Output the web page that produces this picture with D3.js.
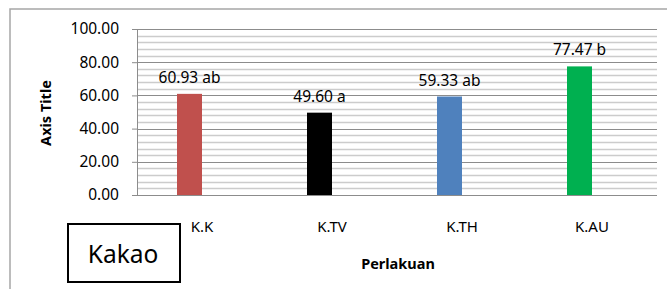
<!DOCTYPE html>
<html>
<head>
<meta charset="utf-8">
<script src="https://cdn.jsdelivr.net/npm/d3@7"></script>
<style>
  body { margin: 0; background: #fff; }
  svg text { font-family: "Noto Sans", "Open Sans", sans-serif; fill: #000; }
</style>
</head>
<body>
<svg id="chart" width="667" height="289"></svg>
<script>
const categories = ["K.K", "K.TV", "K.TH", "K.AU"];
const values = [60.93, 49.60, 59.33, 77.47];
const notation = ["ab", "a", "ab", "b"];
const colors = ["#C0504D", "#000000", "#4F81BD", "#00B050"];
const yTicks = [0, 20, 40, 60, 80, 100];

const svg = d3.select("#chart");

// outer chart frame (cut off on the right and bottom, like the source)
svg.append("rect")
  .attr("x", 10).attr("y", 9)
  .attr("width", 700).attr("height", 320)
  .attr("fill", "none")
  .attr("stroke", "#a6a6a6")
  .attr("stroke-width", 1.5);

const plotLeft = 137, plotRight = 657, plotTop = 29, plotBottom = 195;

const x = d3.scaleBand()
  .domain(categories)
  .range([plotLeft, plotRight]);

const y = d3.scaleLinear()
  .domain([0, 100])
  .range([plotBottom, plotTop]);

// minor gridlines every 4
svg.append("g")
  .selectAll("line")
  .data(d3.range(4, 100, 4).filter(v => v % 20 !== 0))
  .enter().append("line")
  .attr("x1", plotLeft).attr("x2", plotRight)
  .attr("y1", d => Math.round(y(d)) + 0.5)
  .attr("y2", d => Math.round(y(d)) + 0.5)
  .attr("stroke", "#cccccc")
  .attr("stroke-width", 1.5);

// major gridlines
svg.append("g")
  .selectAll("line")
  .data(yTicks.slice(1))
  .enter().append("line")
  .attr("x1", plotLeft).attr("x2", plotRight)
  .attr("y1", d => Math.round(y(d)) + 0.5)
  .attr("y2", d => Math.round(y(d)) + 0.5)
  .attr("stroke", "#8c8c8c")
  .attr("stroke-width", 1.2);

// y axis
const yAxis = svg.append("g")
  .attr("transform", "translate(" + plotLeft + ",0)")
  .call(d3.axisLeft(y).tickValues(yTicks).tickFormat(d3.format(".2f")).tickSize(5).tickPadding(13));
yAxis.select(".domain").attr("stroke", "#8c8c8c");
yAxis.selectAll(".tick line").attr("stroke", "#8c8c8c");
yAxis.selectAll("text")
  .style("font-size", "15.5px")
  .attr("fill", "#000");

// bars: first slot of a two-slot cluster, so shifted left of the category center
const barW = 25;
svg.append("g")
  .selectAll("rect")
  .data(categories)
  .enter().append("rect")
  .attr("x", d => x(d) + x.bandwidth() / 2 - barW)
  .attr("width", barW)
  .attr("y", (d, i) => y(values[i]))
  .attr("height", (d, i) => y(0) - y(values[i]))
  .attr("fill", (d, i) => colors[i]);

// baseline
svg.append("line")
  .attr("x1", plotLeft).attr("x2", plotRight)
  .attr("y1", plotBottom + 0.5).attr("y2", plotBottom + 0.5)
  .attr("stroke", "#8c8c8c")
  .attr("stroke-width", 1.2);

// data labels
svg.append("g")
  .selectAll("text")
  .data(categories)
  .enter().append("text")
  .attr("x", d => x(d) + x.bandwidth() / 2 - barW / 2)
  .attr("y", (d, i) => y(values[i]) - 11)
  .attr("text-anchor", "middle")
  .style("font-size", "15.5px")
  .text((d, i) => values[i].toFixed(2) + " " + notation[i]);

// category labels
svg.append("g")
  .selectAll("text")
  .data(categories)
  .enter().append("text")
  .attr("x", d => x(d) + x.bandwidth() / 2)
  .attr("y", 232)
  .attr("text-anchor", "middle")
  .style("font-size", "15px")
  .text(d => d);

// axis titles
svg.append("text")
  .attr("transform", "translate(51,113) rotate(-90)")
  .attr("text-anchor", "middle")
  .style("font-size", "14.5px")
  .style("font-weight", "bold")
  .text("Axis Title");

svg.append("text")
  .attr("x", 398).attr("y", 269)
  .attr("text-anchor", "middle")
  .style("font-size", "14.5px")
  .style("font-weight", "bold")
  .text("Perlakuan");

// "Kakao" box
svg.append("rect")
  .attr("x", 68).attr("y", 224)
  .attr("width", 112).attr("height", 58)
  .attr("fill", "#fff")
  .attr("stroke", "#000")
  .attr("stroke-width", 2);

svg.append("text")
  .attr("x", 123).attr("y", 263)
  .attr("text-anchor", "middle")
  .style("font-size", "24.5px")
  .text("Kakao");
</script>
</body>
</html>
